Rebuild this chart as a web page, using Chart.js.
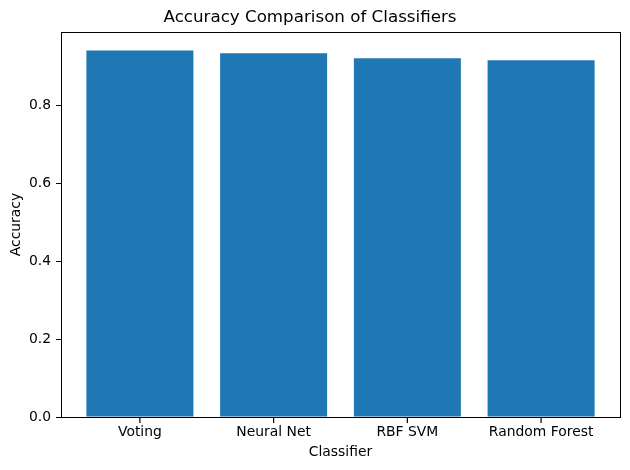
<!DOCTYPE html>
<html>
<head>
<meta charset="utf-8">
<script src="https://cdn.jsdelivr.net/npm/chart.js@4.4.1/dist/chart.umd.min.js"></script>
<style>
  html, body { margin: 0; padding: 0; background: #fff; }
  #wrap { width: 630px; height: 470px; }
</style>
</head>
<body>
<div id="wrap"><canvas id="barChart" width="630" height="470"></canvas></div>
<script>
  // data
  var classifiers = ["Voting", "Neural Net", "RBF SVM", "Random Forest"];
  var accuracy = [0.9415, 0.934, 0.921, 0.916];
  var yTicks = [0.0, 0.2, 0.4, 0.6, 0.8];

  var FONT = "'DejaVu Sans', sans-serif";

  // matplotlib-style full box around the plot area + outward x tick marks
  var boxPlugin = {
    id: "box",
    afterDraw: function (chart) {
      var a = chart.chartArea;
      var c = chart.ctx;
      var xs = chart.scales.x;
      c.save();
      c.strokeStyle = "#000";
      c.lineWidth = 1;
      c.strokeRect(Math.round(a.left) + 0.5, Math.round(a.top) + 0.5,
        Math.round(a.right - a.left), Math.round(a.bottom - a.top));
      c.lineWidth = 1.2;
      c.beginPath();
      for (var i = 0; i < classifiers.length; i++) {
        var px = xs.getPixelForValue(i);
        c.moveTo(px, a.bottom);
        c.lineTo(px, a.bottom + 6);
      }
      c.stroke();
      c.restore();
    },
  };

  try {
    var ctx = document.getElementById("barChart");
    var myChart = new Chart(ctx, {
      type: "bar",
      data: {
        datasets: [
          {
            label: "Accuracy",
            data: classifiers.map(function (name, i) {
              return { x: i, y: accuracy[i] };
            }),
            backgroundColor: "#1f77b4",
            borderColor: "#1f77b4",
            borderWidth: 0,
            inflateAmount: 0,
            categoryPercentage: 1.0,
            barPercentage: 0.8,
          },
        ],
      },
      plugins: [boxPlugin],
      options: {
        responsive: false,
        devicePixelRatio: 1,
        animation: false,
        layout: { padding: { left: 0, right: 10, top: 0, bottom: 0 } },
        plugins: {
          legend: { display: false },
          tooltip: { enabled: false },
          title: {
            display: true,
            text: "Accuracy Comparison of Classifiers",
            color: "#000",
            font: { family: FONT, size: 16.7, weight: "normal", lineHeight: 1.2 },
            padding: { top: 8, bottom: 4 },
          },
        },
        scales: {
          x: {
            type: "linear",
            min: -0.59,
            max: 3.59,
            offset: false,
            afterBuildTicks: function (scale) {
              scale.ticks = classifiers.map(function (n, i) {
                return { value: i };
              });
            },
            afterFit: function (scale) {
              scale.height = 53;
            },
            ticks: {
              color: "#000",
              font: { family: FONT, size: 13.9 },
              padding: 2,
              maxRotation: 0,
              autoSkip: false,
              callback: function (v) {
                return classifiers[v];
              },
            },
            grid: {
              display: false,
              offset: false,
              tickLength: 5,
            },
            border: { display: true, color: "#000", width: 1 },
            title: {
              display: true,
              text: "Classifier",
              color: "#000",
              font: { family: FONT, size: 13.9, lineHeight: 1.2 },
              padding: { top: 0, bottom: 9.5 },
            },
          },
          y: {
            min: 0,
            max: 0.9886,
            afterBuildTicks: function (scale) {
              scale.ticks = yTicks.map(function (v) {
                return { value: v };
              });
            },
            afterFit: function (scale) {
              scale.width = 61;
            },
            ticks: {
              color: "#000",
              font: { family: FONT, size: 13.9 },
              padding: 5,
              callback: function (v) {
                return Number(v).toFixed(1);
              },
            },
            grid: {
              display: true,
              drawOnChartArea: false,
              drawTicks: true,
              tickLength: 5,
              color: "#000",
            },
            border: { display: true, color: "#000", width: 1 },
            title: {
              display: true,
              text: "Accuracy",
              color: "#000",
              font: { family: FONT, size: 13.9, lineHeight: 1.2 },
              padding: { top: 8.5, bottom: 0 },
            },
          },
        },
      },
    });
  } catch (error) {
    console.log(error);
  }
</script>
</body>
</html>
